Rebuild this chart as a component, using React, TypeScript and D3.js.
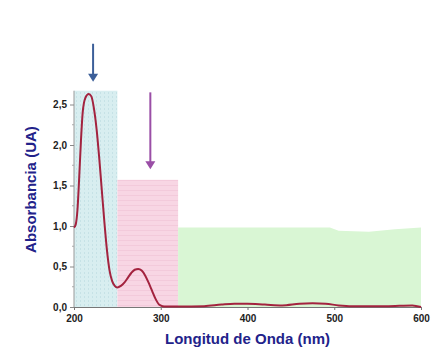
import React, { useEffect, useRef } from 'react';
import * as d3 from 'd3';

// absorbance spectrum (nm, UA)
const wavelengths = [200, 202, 204, 206, 208, 210, 213, 217, 220, 223, 226, 229, 232, 235, 238, 241, 244, 247, 250, 254, 258, 262, 266, 270, 274, 278, 282, 286, 290, 294, 298, 302, 306, 320, 350, 370, 385, 400, 420, 440, 460, 475, 490, 505, 520, 560, 590, 600];
const absorbance = [0.98, 1.02, 1.2, 1.6, 2.05, 2.4, 2.58, 2.63, 2.6, 2.45, 2.2, 1.85, 1.45, 1.05, 0.7, 0.45, 0.32, 0.26, 0.24, 0.26, 0.3, 0.36, 0.42, 0.46, 0.47, 0.45, 0.39, 0.3, 0.2, 0.1, 0.03, 0.01, 0.005, 0.005, 0.01, 0.03, 0.04, 0.04, 0.03, 0.02, 0.04, 0.045, 0.04, 0.02, 0.01, 0.01, 0.02, 0.0];

// shaded bands
const bandStart = [200, 250, 320];
const bandEnd = [250, 320, 600];
const bandTop = [2.67, 1.57, 0.98];
const bandFill = ['#d8eef0', '#f8d6e4', '#d9f6d4'];

// green band upper edge (slight dip near 520 nm)
const greenEdgeX = [320, 495, 505, 540, 570, 600];
const greenEdgeY = [0.98, 0.98, 0.94, 0.93, 0.96, 0.98];

const xTicks = [200, 300, 400, 500, 600];
const yTicks = [0, 0.5, 1, 1.5, 2, 2.5];

// arrows: wavelength and top/bottom in UA
const arrowX = [222, 288];
const arrowFrom = [3.25, 2.65];
const arrowTo = [2.78, 1.7];
const arrowColor = ['#3c5f99', '#9a4ea6'];

export default function App() {
  const ref = useRef<SVGSVGElement>(null);

  useEffect(() => {
    drawChart();
  });

  function drawChart() {
    const width = 434, height = 354;
    const margin = { top: 104.5, right: 13, bottom: 47, left: 74 };

    const svg = d3.select(ref.current);
    svg.selectAll('*').remove();

    const x = d3.scaleLinear().domain([200, 600]).range([margin.left, width - margin.right]);
    const y = d3.scaleLinear().domain([0, 2.5]).range([height - margin.bottom, margin.top]);

    const defs = svg.append('defs');
    const dots = defs.append('pattern')
      .attr('id', 'dots').attr('width', 4).attr('height', 4)
      .attr('patternUnits', 'userSpaceOnUse');
    dots.append('rect').attr('width', 4).attr('height', 4).attr('fill', bandFill[0]);
    dots.append('rect').attr('width', 1).attr('height', 2).attr('fill', '#c6e2e6');
    const hatch = defs.append('pattern')
      .attr('id', 'hatch').attr('width', 5).attr('height', 5)
      .attr('patternUnits', 'userSpaceOnUse');
    hatch.append('rect').attr('width', 5).attr('height', 5).attr('fill', bandFill[1]);
    hatch.append('rect').attr('width', 5).attr('height', 1).attr('fill', '#f3cadb');

    // bands
    const fills = ['url(#dots)', 'url(#hatch)'];
    svg.append('g')
      .selectAll('rect')
      .data(bandStart.slice(0, 2))
      .enter()
      .append('rect')
        .attr('x', (d) => x(d))
        .attr('y', (d, i) => y(bandTop[i]))
        .attr('width', (d, i) => x(bandEnd[i]) - x(d))
        .attr('height', (d, i) => y(0) - y(bandTop[i]))
        .attr('fill', (d, i) => fills[i]);

    const greenArea = d3.area<number>()
      .x((d) => x(d))
      .y0(y(0))
      .y1((d, i) => y(greenEdgeY[i]));
    svg.append('path')
      .datum(greenEdgeX)
      .attr('d', greenArea)
      .attr('fill', bandFill[2]);

    // axes
    const xAxis = d3.axisBottom(x).tickValues(xTicks).tickSize(3).tickFormat(d3.format('d'));
    const gx = svg.append('g')
      .attr('transform', `translate(0, ${y(0)})`)
      .call(xAxis);
    gx.select('.domain').attr('stroke', '#777');
    gx.selectAll('line').attr('stroke', '#777');
    gx.selectAll('text')
      .attr('fill', '#222')
      .attr('dy', '0.9em')
      .style('font-family', 'Arial, Liberation Sans, sans-serif')
      .style('font-weight', 'bold')
      .style('font-size', '10px');

    const yAxis = d3.axisLeft(y).tickValues(yTicks).tickSize(4)
      .tickFormat((d) => d3.format('.1f')(d as number).replace('.', ','));
    const gy = svg.append('g')
      .attr('transform', `translate(${x(200)}, 0)`)
      .call(yAxis);
    gy.select('.domain').attr('stroke', '#999').attr('d', `M0,${y(0)}V${y(2.67)}`);
    gy.selectAll('line').attr('stroke', '#888');
    gy.selectAll('text')
      .attr('fill', '#222')
      .style('font-family', 'Arial, Liberation Sans, sans-serif')
      .style('font-weight', 'bold')
      .style('font-size', '10px');

    // minor y ticks
    svg.append('g')
      .selectAll('line')
      .data(yTicks.slice(0, 5).map((v) => v + 0.25))
      .enter()
      .append('line')
        .attr('x1', x(200) - 2).attr('x2', x(200))
        .attr('y1', (d) => y(d)).attr('y2', (d) => y(d))
        .attr('stroke', '#aaa');

    // spectrum
    const line = d3.line<number>()
      .x((d) => x(d))
      .y((d, i) => y(absorbance[i]))
      .curve(d3.curveMonotoneX);
    svg.append('path')
      .datum(wavelengths)
      .attr('d', line)
      .attr('fill', 'none')
      .attr('stroke', '#a3233f')
      .attr('stroke-width', 2);

    // arrows
    arrowX.forEach((wl, i) => {
      const ax = x(wl);
      svg.append('line')
        .attr('x1', ax).attr('x2', ax)
        .attr('y1', y(arrowFrom[i])).attr('y2', y(arrowTo[i]) - 6)
        .attr('stroke', arrowColor[i]).attr('stroke-width', 2);
      svg.append('path')
        .attr('d', `M${ax - 5},${y(arrowTo[i]) - 8}L${ax + 5},${y(arrowTo[i]) - 8}L${ax},${y(arrowTo[i])}Z`)
        .attr('fill', arrowColor[i]);
    });

    // titles
    svg.append('text')
      .attr('x', (x(200) + x(600)) / 2)
      .attr('y', 344)
      .style('text-anchor', 'middle')
      .style('font-family', 'Arial, Liberation Sans, sans-serif')
      .style('font-weight', 'bold')
      .style('font-size', '15px')
      .attr('fill', '#22228a')
      .text('Longitud de Onda (nm)');

    svg.append('text')
      .attr('transform', `translate(36, ${y(1.45)}) rotate(-90)`)
      .style('text-anchor', 'middle')
      .style('font-family', 'Arial, Liberation Sans, sans-serif')
      .style('font-weight', 'bold')
      .style('font-size', '15px')
      .attr('fill', '#22228a')
      .text('Absorbancia (UA)');
  }

  return (
    <svg ref={ref} width={434} height={354}
      style={{ position: 'absolute', left: 0, top: 0, background: 'white' }} />
  );
}
